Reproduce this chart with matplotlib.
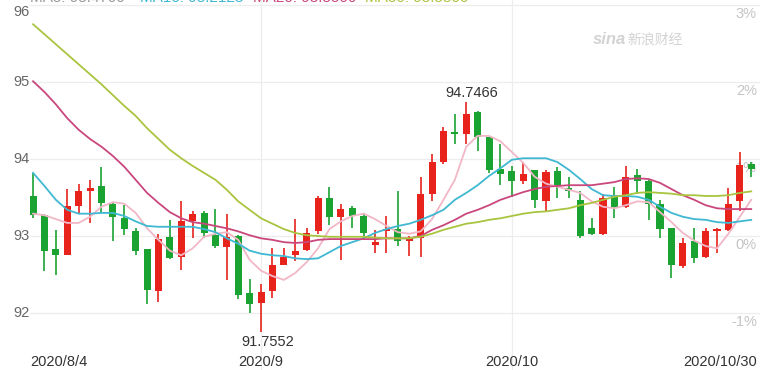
import numpy as np
import pandas as pd
import matplotlib
matplotlib.use('Agg')
import matplotlib.pyplot as plt

plt.rcParams['font.family'] = ['Liberation Sans', 'Noto Sans CJK SC', 'DejaVu Sans']

# trading days shown (Aug 4 .. Oct 30, 2020)
dates = pd.bdate_range('2020-08-04', '2020-10-30')

opens = [93.52, 93.27, 92.83, 92.75, 93.39, 93.59, 93.65, 93.42, 93.23, 93.07,
         92.83, 92.28, 92.99, 92.73, 93.19, 93.30, 93.01, 92.86, 93.00, 92.26,
         92.13, 92.28, 92.62, 92.75, 92.82, 93.06, 93.49, 93.25, 93.37, 93.26,
         92.88, 93.06, 93.09, 92.93, 92.97, 93.55, 93.96, 94.35, 94.33, 94.61,
         94.28, 93.87, 93.84, 93.72, 93.86, 93.46, 93.84, 93.62, 93.47, 93.10,
         93.02, 93.53, 93.38, 93.79, 93.71, 93.42, 93.10, 92.61, 92.93, 92.73,
         93.06, 93.08, 93.46, 93.94]
highs = [93.82, 93.29, 93.08, 93.61, 93.68, 93.73, 93.89, 93.43, 93.40, 93.10,
         92.83, 93.03, 93.21, 93.46, 93.32, 93.32, 93.35, 93.29, 93.01, 92.44,
         92.38, 92.84, 92.84, 93.22, 93.10, 93.52, 93.64, 93.42, 93.39, 93.30,
         93.08, 93.26, 93.58, 93.00, 93.76, 94.06, 94.42, 94.59, 94.7466, 94.62,
         94.28, 94.20, 93.91, 93.95, 93.86, 93.86, 93.89, 93.77, 93.58, 93.23,
         93.55, 93.64, 93.91, 93.87, 93.74, 93.47, 93.10, 92.97, 93.10, 93.11,
         93.11, 93.63, 94.09, 93.96]
lows = [93.23, 92.55, 92.49, 92.75, 93.29, 93.17, 93.30, 92.93, 93.01, 92.75,
        92.12, 92.14, 92.70, 92.56, 92.97, 92.97, 92.84, 92.43, 92.18, 92.00,
        91.7552, 92.19, 92.62, 92.67, 92.80, 93.03, 93.14, 92.69, 93.11, 92.97,
        92.78, 92.78, 92.87, 92.74, 92.73, 93.45, 93.94, 94.19, 94.20, 94.11,
        93.82, 93.66, 93.51, 93.68, 93.36, 93.32, 93.49, 93.49, 92.98, 93.01,
        93.01, 93.23, 93.36, 93.55, 93.21, 92.97, 92.45, 92.59, 92.65, 92.72,
        92.78, 93.07, 93.33, 93.77]
closes = [93.27, 92.81, 92.75, 93.39, 93.58, 93.63, 93.43, 93.25, 93.09, 92.81,
          92.30, 92.96, 92.72, 93.20, 93.29, 93.04, 92.87, 92.99, 92.24, 92.12,
          92.27, 92.62, 92.73, 92.80, 93.04, 93.50, 93.25, 93.35, 93.26, 93.04,
          92.92, 93.09, 92.94, 92.97, 93.54, 93.96, 94.37, 94.32, 94.58, 94.29,
          93.86, 93.81, 93.72, 93.81, 93.47, 93.83, 93.65, 93.59, 93.00, 93.03,
          93.49, 93.38, 93.76, 93.71, 93.42, 93.09, 92.62, 92.91, 92.72, 93.06,
          93.08, 93.42, 93.92, 93.87]

ma5 = [93.29, 93.27, 93.22, 93.17, 93.17, 93.25, 93.38, 93.44, 93.42, 93.30,
       93.10, 92.95, 92.81, 92.75, 92.84, 92.99, 93.03, 93.05, 92.95, 92.69,
       92.55, 92.48, 92.43, 92.52, 92.66, 92.84, 93.09, 93.19, 93.26, 93.29,
       93.22, 93.13, 93.05, 93.03, 93.06, 93.22, 93.47, 93.73, 94.16, 94.30,
       94.30, 94.23, 94.09, 93.95, 93.77, 93.68, 93.64, 93.60, 93.56, 93.45,
       93.38, 93.36, 93.40, 93.45, 93.44, 93.31, 93.18, 93.04, 92.94, 92.87,
       92.84, 93.03, 93.25, 93.47]
ma10 = [93.82, 93.65, 93.47, 93.34, 93.29, 93.29, 93.30, 93.30, 93.26, 93.19,
        93.13, 93.12, 93.12, 93.12, 93.12, 93.09, 93.05, 92.97, 92.90, 92.81,
        92.77, 92.75, 92.74, 92.71, 92.70, 92.71, 92.79, 92.87, 92.92, 92.97,
        93.04, 93.09, 93.13, 93.16, 93.21, 93.27, 93.34, 93.47, 93.56, 93.66,
        93.78, 93.88, 93.99, 94.01, 94.01, 94.01, 93.96, 93.86, 93.74, 93.61,
        93.53, 93.52, 93.52, 93.51, 93.47, 93.38, 93.30, 93.25, 93.22, 93.21,
        93.18, 93.17, 93.19, 93.21]
ma20 = [95.01, 94.87, 94.71, 94.53, 94.38, 94.26, 94.16, 94.04, 93.90, 93.73,
        93.56, 93.43, 93.31, 93.23, 93.18, 93.16, 93.13, 93.10, 93.06, 93.01,
        92.97, 92.95, 92.92, 92.91, 92.92, 92.95, 92.96, 92.96, 92.96, 92.96,
        92.96, 92.97, 92.97, 92.97, 93.00, 93.08, 93.14, 93.21, 93.29, 93.34,
        93.40, 93.47, 93.52, 93.57, 93.61, 93.64, 93.65, 93.66, 93.66, 93.66,
        93.68, 93.70, 93.74, 93.75, 93.74, 93.69, 93.61, 93.53, 93.47, 93.40,
        93.36, 93.35, 93.35, 93.35]
ma30 = [95.75, 95.62, 95.49, 95.36, 95.23, 95.10, 94.97, 94.83, 94.69, 94.56,
        94.40, 94.26, 94.12, 94.01, 93.91, 93.82, 93.73, 93.60, 93.45, 93.34,
        93.23, 93.16, 93.09, 93.04, 93.01, 93.00, 92.99, 92.99, 92.99, 92.99,
        92.98, 92.97, 92.97, 92.97, 92.99, 93.03, 93.08, 93.12, 93.16, 93.18,
        93.21, 93.23, 93.26, 93.29, 93.31, 93.32, 93.34, 93.36, 93.40, 93.43,
        93.47, 93.51, 93.53, 93.56, 93.57, 93.56, 93.55, 93.53, 93.53, 93.52,
        93.52, 93.53, 93.56, 93.58]

price_ticks = [92, 93, 94, 95, 96]
pct_labels = ['-1%', '0%', '1%', '2%', '3%']
legend_texts = ['MA5: 93.4700', 'MA10: 93.2123', 'MA20: 93.3500', 'MA30: 93.5800']

RED = '#e8231c'
GREEN = '#1ba332'
ma_colors = ['#f2b7c7', '#3fb8d2', '#c9477c', '#a9c43e']

o = np.array(opens)
c = np.array(closes)
x = np.arange(len(dates))
col = np.where(c >= o, RED, GREEN)

fig = plt.figure(figsize=(7.6, 3.7), dpi=100)
ax = fig.add_axes([0, 0, 1, 1])
ax.set_xlim(-2.9, 63.77)
ax.set_ylim(91.26, 96.065)
ax.axis('off')

# grid
for t in price_ticks:
    ax.axhline(t, xmin=0.04, color='#ededed', lw=0.9, zorder=0)
month_starts = [i for i in range(1, len(dates)) if dates[i].month != dates[i - 1].month]
for i in month_starts:
    ax.axvline(i, color='#ededed', lw=0.9, zorder=0)

# axis labels
ytr = ax.get_yaxis_transform()
for t in price_ticks:
    va = 'top' if t == price_ticks[-1] else 'center'
    ax.text(0.039, t, str(t), transform=ytr, ha='right', va=va,
            fontsize=10.5, color='#666666', zorder=1)
for t, lab in zip(price_ticks, pct_labels):
    ax.text(0.996, t - 0.02, lab, transform=ytr, ha='right', va='top',
            fontsize=10.5, color='#c4c4c4', zorder=1)

xtr = ax.get_xaxis_transform()
ax.text(-0.25, 0.022, dates[0].strftime('%Y/%-m/%-d'), transform=xtr,
        ha='left', va='center', fontsize=10.5, color='#333333')
for i in month_starts:
    ax.text(i, 0.022, dates[i].strftime('%Y/%-m'), transform=xtr,
            ha='center', va='center', fontsize=10.5, color='#333333')
ax.text(x[-1] + 0.5, 0.022, dates[-1].strftime('%Y/%-m/%-d'), transform=xtr,
        ha='right', va='center', fontsize=10.5, color='#333333')

# candles
ax.vlines(x, lows, highs, colors=col, lw=1.2, zorder=3)
ax.bar(x, np.maximum(np.abs(c - o), 0.03), bottom=np.minimum(o, c),
       width=0.62, color=col, zorder=4)

# moving averages
for vals, cl in zip([ma5, ma10, ma20, ma30], ma_colors):
    ax.plot(x, vals, color=cl, lw=1.3, zorder=5)

# extreme labels
hi = int(np.argmax(highs))
lo = int(np.argmin(lows))
ax.annotate(f'{highs[hi]:.4f}', (hi, highs[hi]), xytext=(4, 1),
            textcoords='offset points', ha='center', va='bottom',
            fontsize=10.5, color='#333333')
ax.annotate(f'{lows[lo]:.4f}', (lo, lows[lo]), xytext=(5, -2),
            textcoords='offset points', ha='center', va='top',
            fontsize=10.5, color='#333333')

# legend row, scrolled mostly out of view at the top like the source
for xp, txt, cl in zip([30, 140, 253, 365], legend_texts,
                       ['#999999', ma_colors[1], ma_colors[2], ma_colors[3]]):
    fig.text(xp / 760, 1 - 2 / 370, txt, ha='left', va='baseline',
             fontsize=11, color=cl)

# watermark
fig.text(593 / 760, 1 - 40 / 370, 'sina', ha='left', va='center',
         fontsize=12, style='italic', weight='bold', color='#d3d3d3')
fig.text(627 / 760, 1 - 40 / 370, '新浪财经', ha='left', va='center',
         fontsize=10, color='#d3d3d3', family=['Noto Sans CJK SC', 'DejaVu Sans'])

fig.savefig('out.png', dpi=100)
